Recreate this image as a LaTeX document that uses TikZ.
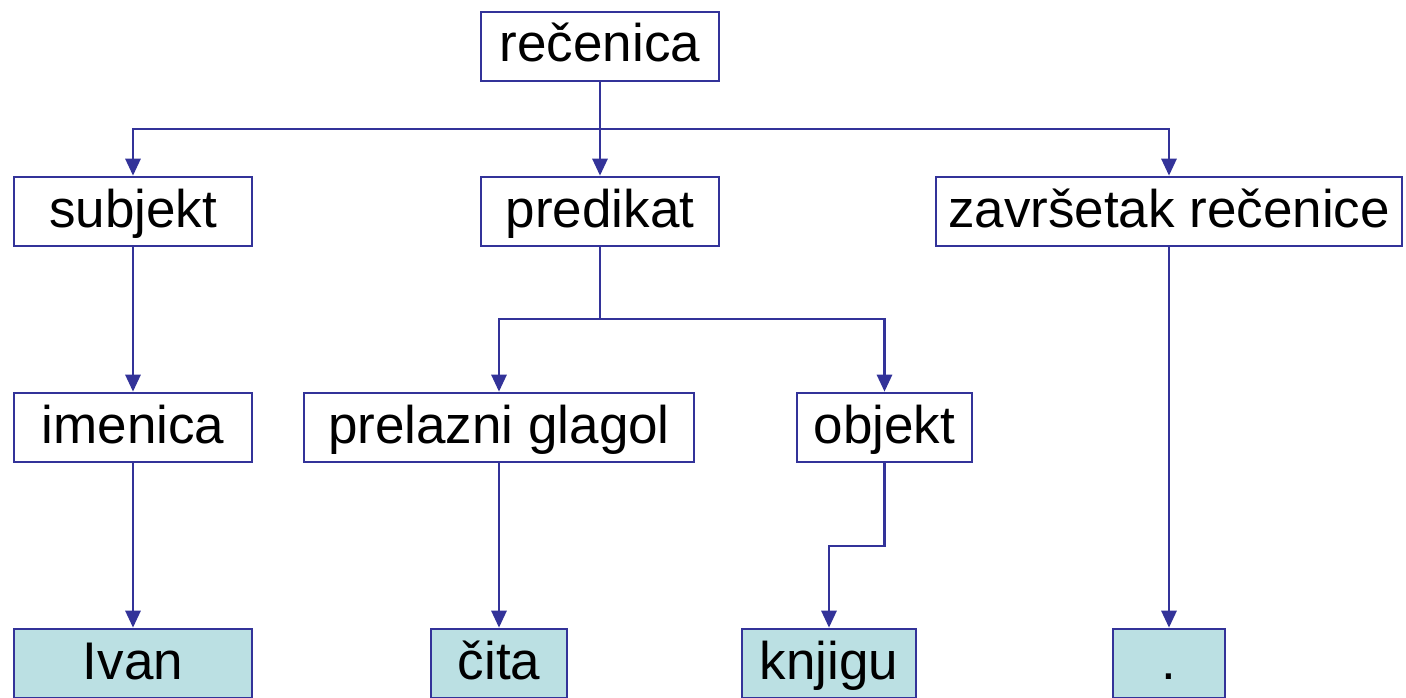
\documentclass[tikz,border=0pt]{standalone}
\usepackage{fontspec}
\setmainfont{Liberation Sans}
\usetikzlibrary{arrows.meta}
\definecolor{lineblue}{HTML}{333399}
\definecolor{leaffill}{HTML}{BBE0E3}
\tikzset{
  box/.style={draw=lineblue, line width=2.6pt, minimum height=69pt, inner sep=0pt,
    text height=40pt, text depth=9pt,
    font=\fontsize{53}{60}\selectfont, text=black, anchor=center},
  leaf/.style={box, fill=leaffill},
  conn/.style={draw=lineblue, line width=2.8pt, line join=miter},
  arr/.style={conn, -{Triangle[width=15pt,length=17pt]}}
}
\begin{document}
\begin{tikzpicture}[x=1pt,y=-1pt]
\useasboundingbox (0,0) rectangle (1406,698);
\node[box, minimum width=238pt] (rec) at (600,46.5) {rečenica};
\node[box, minimum width=238pt] (subj) at (133,211.5) {subjekt};
\node[box, minimum width=238pt] (pred) at (600,211.5) {predikat};
\node[box, minimum width=466pt] (zav) at (1169,211.5) {završetak rečenice};
\node[box, minimum width=238pt] (imen) at (133,427.5) {imenica};
\node[box, minimum width=390pt] (glag) at (499,427.5) {prelazni glagol};
\node[box, minimum width=175pt] (obj) at (884.5,427.5) {objekt};
\node[leaf, minimum width=238pt] (ivan) at (133,663.5) {Ivan};
\node[leaf, minimum width=136pt] (cita) at (499,663.5) {čita};
\node[leaf, minimum width=174pt] (knj) at (829,663.5) {knjigu};
\node[leaf, minimum width=112pt] (tocka) at (1169,663.5) {.};
\coordinate (j1) at (600,129);
\coordinate (j2) at (600,319);
\coordinate (j3) at (884.5,546);
\draw[arr] (rec.south) -- (j1) -| (subj.north);
\draw[arr] (j1) -- (pred.north);
\draw[arr] (rec.south) -- (j1) -| (zav.north);
\draw[arr] (pred.south) -- (j2) -| (glag.north);
\draw[arr] (pred.south) -- (j2) -| (obj.north);
\draw[arr] (subj.south) -- (imen.north);
\draw[arr] (imen.south) -- (ivan.north);
\draw[arr] (glag.south) -- (cita.north);
\draw[arr] (obj.south) -- (j3) -| (knj.north);
\draw[arr] (zav.south) -- (tocka.north);
\end{tikzpicture}
\end{document}
